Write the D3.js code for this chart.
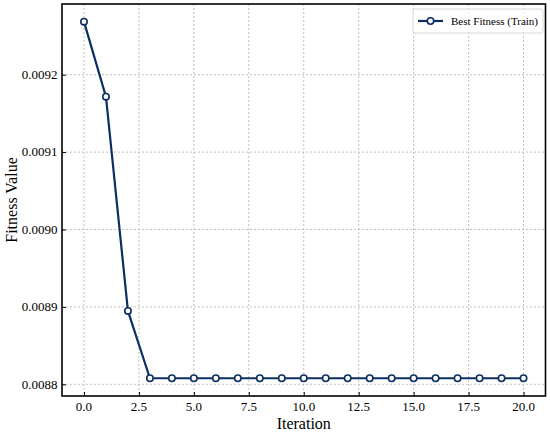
<!DOCTYPE html>
<html>
<head>
<meta charset="utf-8">
<script src="https://cdn.jsdelivr.net/npm/d3@7"></script>
<style>
  body { margin: 0; background: #fff; }
  svg { display: block; font-family: "Liberation Serif", "Times New Roman", serif; }
</style>
</head>
<body>
<script>
// data
var iterations = [0, 1, 2, 3, 4, 5, 6, 7, 8, 9, 10, 11, 12, 13, 14, 15, 16, 17, 18, 19, 20];
var bestFitness = [0.0092685, 0.0091716, 0.0088948, 0.0088078, 0.0088078, 0.0088078, 0.0088078,
                   0.0088078, 0.0088078, 0.0088078, 0.0088078, 0.0088078, 0.0088078, 0.0088078,
                   0.0088078, 0.0088078, 0.0088078, 0.0088078, 0.0088078, 0.0088078, 0.0088078];
var xTicks = [0, 2.5, 5, 7.5, 10, 12.5, 15, 17.5, 20];
var yTicks = [0.0088, 0.0089, 0.0090, 0.0091, 0.0092];
var seriesName = "Best Fitness (Train)";

var W = 550, H = 434;
var margin = {top: 4, right: 4.5, bottom: 38, left: 62};
var color = "#0c2f62";

var svg = d3.select("body").append("svg").attr("width", W).attr("height", H);

var x = d3.scaleLinear().domain([-1, 21]).range([margin.left, W - margin.right]);
var y = d3.scaleLinear().domain([0.0087849, 0.0092913]).range([H - margin.bottom, margin.top]);

// grid
svg.append("g").selectAll("line").data(xTicks).enter().append("line")
  .attr("x1", function(d) { return x(d); }).attr("x2", function(d) { return x(d); })
  .attr("y1", margin.top).attr("y2", H - margin.bottom)
  .attr("stroke", "#b0b0b0").attr("stroke-width", 0.8).attr("stroke-dasharray", "2,2");
svg.append("g").selectAll("line").data(yTicks).enter().append("line")
  .attr("y1", function(d) { return y(d); }).attr("y2", function(d) { return y(d); })
  .attr("x1", margin.left).attr("x2", W - margin.right)
  .attr("stroke", "#b0b0b0").attr("stroke-width", 0.8).attr("stroke-dasharray", "2,2");

// axes: tick marks pointing inward, labels drawn separately
svg.append("g").attr("transform", "translate(0," + (H - margin.bottom) + ")")
  .call(d3.axisBottom(x).tickValues(xTicks).tickFormat("").tickSizeInner(-4).tickSizeOuter(0))
  .call(function(g) { g.select(".domain").remove(); });
svg.append("g").attr("transform", "translate(" + margin.left + ",0)")
  .call(d3.axisLeft(y).tickValues(yTicks).tickFormat("").tickSizeInner(-4).tickSizeOuter(0))
  .call(function(g) { g.select(".domain").remove(); });

var fx = d3.format(".1f"), fy = d3.format(".4f");
svg.append("g").selectAll("text").data(xTicks).enter().append("text")
  .attr("x", function(d) { return x(d); }).attr("y", 411)
  .attr("text-anchor", "middle").style("font-size", "13px").attr("fill", "#000")
  .text(function(d) { return fx(d); });
svg.append("g").selectAll("text").data(yTicks).enter().append("text")
  .attr("x", margin.left - 4.5).attr("y", function(d) { return y(d); }).attr("dy", "0.33em")
  .attr("text-anchor", "end").style("font-size", "13px").attr("fill", "#000")
  .text(function(d) { return fy(d); });

// frame
svg.append("rect")
  .attr("x", margin.left).attr("y", margin.top)
  .attr("width", W - margin.right - margin.left).attr("height", H - margin.bottom - margin.top)
  .attr("fill", "none").attr("stroke", "#000").attr("stroke-width", 1.6);

// line + markers
var line = d3.line()
  .x(function(d, i) { return x(iterations[i]); })
  .y(function(d) { return y(d); });
svg.append("path").attr("d", line(bestFitness))
  .attr("fill", "none").attr("stroke", color).attr("stroke-width", 2.2);
svg.selectAll("circle.pt").data(bestFitness).enter().append("circle")
  .attr("class", "pt")
  .attr("cx", function(d, i) { return x(iterations[i]); })
  .attr("cy", function(d) { return y(d); })
  .attr("r", 3.2).attr("fill", "#fff").attr("stroke", color).attr("stroke-width", 1.6);

// axis labels
svg.append("text").attr("x", (margin.left + W - margin.right) / 2).attr("y", 429)
  .attr("text-anchor", "middle").attr("font-size", 16).text("Iteration");
svg.append("text").attr("transform", "translate(17," + ((margin.top + H - margin.bottom) / 2) + ") rotate(-90)")
  .attr("text-anchor", "middle").attr("font-size", 16).text("Fitness Value");

// legend
var lg = svg.append("g").attr("transform", "translate(413,9)");
lg.append("rect").attr("width", 130).attr("height", 24).attr("rx", 2)
  .attr("fill", "#fff").attr("fill-opacity", 0.8).attr("stroke", "#d0d0d0").attr("stroke-width", 0.8);
lg.append("line").attr("x1", 5).attr("x2", 30).attr("y1", 12).attr("y2", 12)
  .attr("stroke", color).attr("stroke-width", 2.2);
lg.append("circle").attr("cx", 17.5).attr("cy", 12).attr("r", 3.2)
  .attr("fill", "#fff").attr("stroke", color).attr("stroke-width", 1.6);
lg.append("text").attr("x", 38).attr("y", 16).attr("font-size", 11).text(seriesName);
</script>
</body>
</html>
